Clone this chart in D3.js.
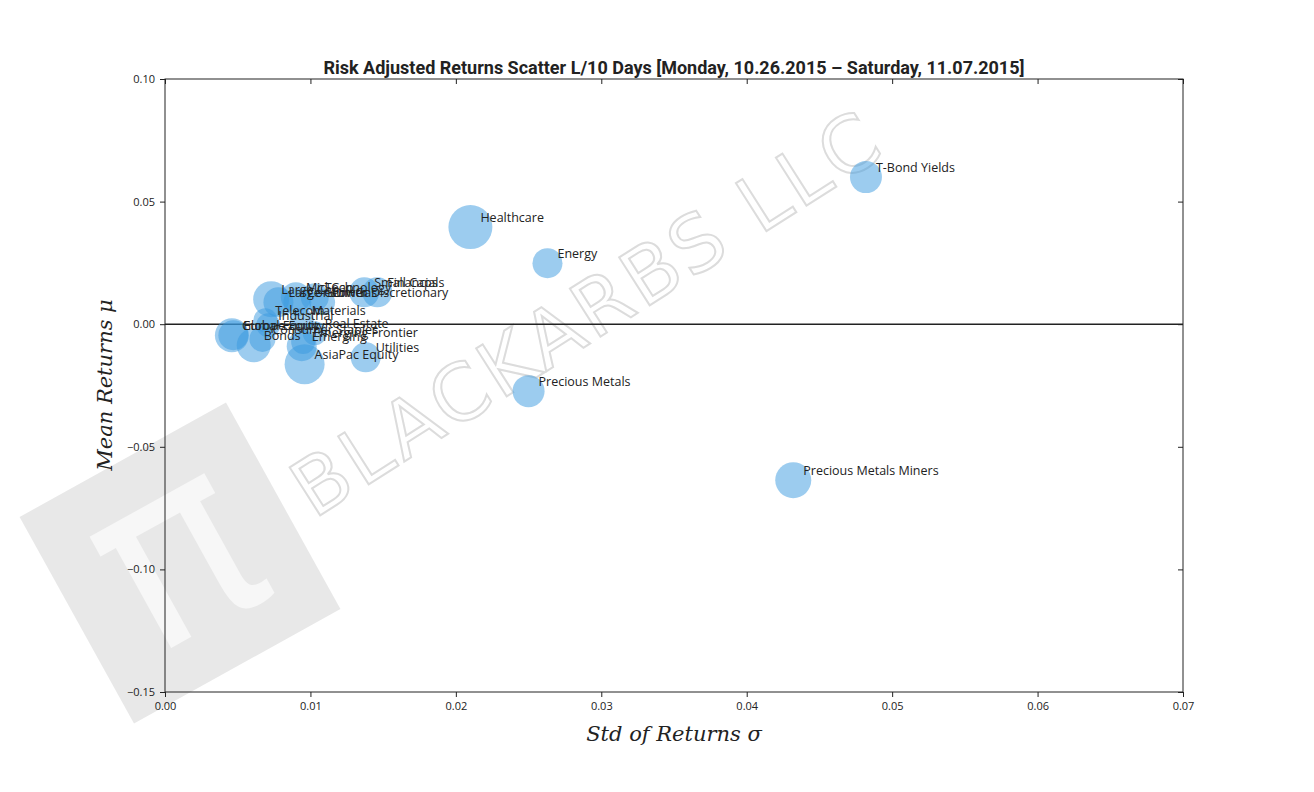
<!DOCTYPE html>
<html><head><meta charset="utf-8">
<script src="https://cdn.jsdelivr.net/npm/d3@7"></script>
<style>body{margin:0;background:#fff}</style>
</head><body><div id="chart"></div>
<script>
var names = ["T-Bond Yields","Healthcare","Energy","Precious Metals","Precious Metals Miners","Utilities","AsiaPac Equity",
  "Small Caps","Financials","Consumer Discretionary","Large Cap","Large Growth","Mid Cap","Technology","Oil+Gas",
  "Telecom","Industrial","Materials","Global Equity","Europe Equity","Real Estate","Bonds","Consumer Staples","Emerging","Emerging Frontier"];
var stdRet = [0.0482,0.0210,0.0263,0.0250,0.0432,0.0138,0.0096,
  0.0137,0.0146,0.0091,0.0073,0.0078,0.0090,0.0103,0.0108,
  0.0069,0.0071,0.0094,0.0046,0.0047,0.0103,0.0061,0.0067,0.0094,0.0095];
var meanRet = [0.060,0.0396,0.0249,-0.0273,-0.0636,-0.0135,-0.0163,
  0.0130,0.0130,0.0090,0.0102,0.0090,0.0110,0.0110,0.0090,
  0.0016,-0.0004,0.0016,-0.0045,-0.0045,-0.0037,-0.0086,-0.0060,-0.0090,-0.0073];
var sizes = [16,22,15,16,18,15,20, 15,15,14,18,15,15,14,13, 12,12,12,17,15,12,17,13,15,12];
var xTicks = [0,0.01,0.02,0.03,0.04,0.05,0.06,0.07];
var yTicks = [0.10,0.05,0,-0.05,-0.10,-0.15];

var W = 1314, H = 792, L = 165, R = 1183, T = 79, B = 692;
var svg = d3.select("#chart").append("svg").attr("width", W).attr("height", H);
var x = d3.scaleLinear().domain([0,0.07]).range([L,R]);
var y = d3.scaleLinear().domain([-0.15,0.10]).range([B,T]);
var r = d3.scaleLinear().domain([0,22]).range([0,22]);

// watermark
var wm = svg.append("g").attr("transform","translate(180,563) rotate(-29)");
wm.append("rect").attr("x",-118).attr("y",-118).attr("width",236).attr("height",236).attr("fill","#e8e8e8");
wm.append("text").attr("text-anchor","middle").attr("y",70).attr("font-family","DejaVu Sans")
  .attr("font-size",250).attr("fill","#f7f7f7").text("π");
svg.append("text").attr("transform","translate(590,318) rotate(-32.5)").attr("text-anchor","middle")
  .attr("dominant-baseline","middle").attr("font-family","DejaVu Sans").attr("font-size",78)
  .attr("letter-spacing",4).attr("fill","none").attr("stroke","#dcdcdc").attr("stroke-width",2).text("BLACKARBS LLC");

svg.append("line").attr("x1",L).attr("x2",R).attr("y1",y(0)).attr("y2",y(0)).attr("stroke","#222").attr("stroke-width",1.5);

svg.selectAll("circle.pt").data(names).enter().append("circle").attr("class","pt")
  .attr("cx",function(d,i){return x(stdRet[i]);}).attr("cy",function(d,i){return y(meanRet[i]);})
  .attr("r",function(d,i){return r(sizes[i]);}).attr("fill","#3a9ae0").attr("fill-opacity",0.5);

svg.selectAll("text.lbl").data(names).enter().append("text").attr("class","lbl")
  .attr("x",function(d,i){return x(stdRet[i])+10;}).attr("y",function(d,i){return y(meanRet[i])-5;})
  .attr("font-family","Open Sans").attr("font-size",12.5).attr("fill","#222").text(function(d){return d;});

var fmt = d3.format(".2f");
function style(g){g.selectAll("text").attr("font-family","Open Sans").attr("font-size",11).attr("fill","#222");
  g.select(".domain").remove(); g.selectAll("line").attr("stroke","#222");}
svg.append("g").attr("transform","translate(0,"+B+")").call(d3.axisBottom(x).tickValues(xTicks).tickFormat(fmt).tickSize(5).tickPadding(5)).call(style);
svg.append("g").attr("transform","translate(0,"+T+")").call(d3.axisTop(x).tickValues(xTicks).tickFormat("").tickSize(-5)).call(style);
svg.append("g").attr("transform","translate("+L+",0)").call(d3.axisLeft(y).tickValues(yTicks).tickFormat(function(v){return fmt(v).replace("-","\u2212");}).tickSize(5).tickPadding(5)).call(style);
svg.append("g").attr("transform","translate("+R+",0)").call(d3.axisRight(y).tickValues(yTicks).tickFormat("").tickSize(-5)).call(style);
svg.append("rect").attr("x",L).attr("y",T).attr("width",R-L).attr("height",B-T).attr("fill","none").attr("stroke","#222");

svg.append("text").attr("x",(L+R)/2).attr("y",74).attr("text-anchor","middle").attr("font-family","Liberation Sans Narrow, Roboto")
  .attr("font-weight","bold").attr("font-size",18).attr("fill","#222")
  .text("Risk Adjusted Returns Scatter L/10 Days [Monday, 10.26.2015 \u2013 Saturday, 11.07.2015]");
svg.append("text").attr("x",674).attr("y",741).attr("text-anchor","middle").attr("font-family","DejaVu Serif")
  .attr("font-style","italic").attr("font-size",21).attr("fill","#222").text("Std of Returns  σ");
svg.append("text").attr("transform","translate(112,385) rotate(-90)").attr("text-anchor","middle").attr("font-family","DejaVu Serif")
  .attr("font-style","italic").attr("font-size",21).attr("fill","#222").text("Mean Returns  μ");
</script></body></html>
